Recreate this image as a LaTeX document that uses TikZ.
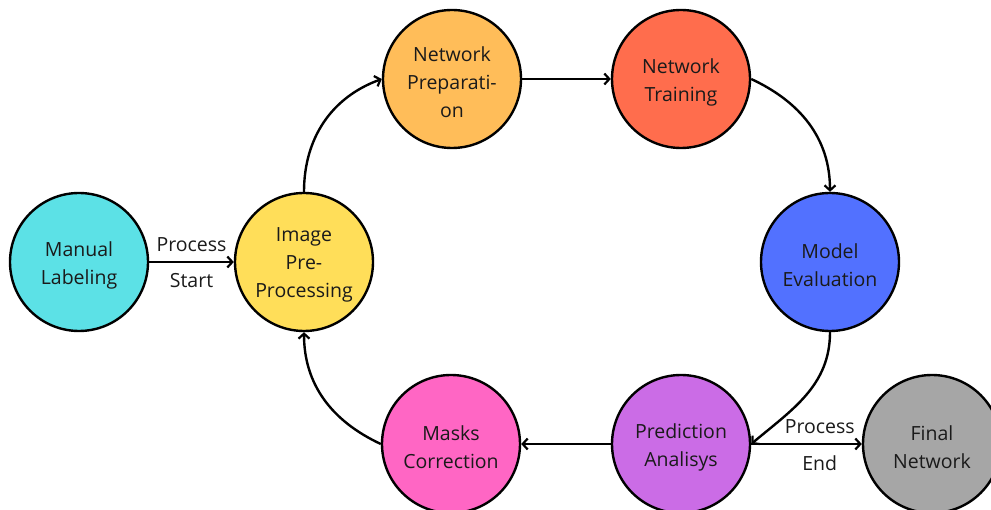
\documentclass[tikz,border=0pt]{standalone}
\usepackage{fontspec}
\setmainfont{Open Sans}
\usetikzlibrary{arrows.meta}
\definecolor{cManual}{HTML}{5CE1E6}
\definecolor{cImage}{HTML}{FFDE59}
\definecolor{cPrep}{HTML}{FFBD59}
\definecolor{cTrain}{HTML}{FF6D4D}
\definecolor{cModel}{HTML}{5271FF}
\definecolor{cPred}{HTML}{CB6CE6}
\definecolor{cMask}{HTML}{FF66C4}
\definecolor{cFinal}{HTML}{A6A6A6}
\definecolor{txt}{HTML}{1A1A1A}
\begin{document}
\begin{tikzpicture}[x=1pt,y=-1pt,
  stage/.style={circle,draw=black,line width=2.4pt,minimum size=138pt,inner sep=0pt},
  stxt/.style={align=center,text=txt,inner sep=0pt,yshift=-3pt,font=\fontsize{19.5}{28}\selectfont},
  flow/.style={line width=2.4pt,-{Straight Barb[length=5pt,width=11pt,line width=2.2pt]}},
  lbl/.style={text=txt,font=\fontsize{19.5}{22}\selectfont,inner sep=0pt}]
\useasboundingbox (0,0) rectangle (991,510);
\clip (0,0) rectangle (991,510);
\node[stage,fill=cManual,label={[stxt]center:Manual\\Labeling}] (ml) at (79,262) {};
\node[stage,fill=cImage,label={[stxt]center:Image\\Pre-\\Processing}] (ip) at (304,262) {};
\node[stage,fill=cPrep,label={[stxt]center:Network\\Preparati-\\on}] (np) at (452,79) {};
\node[stage,fill=cTrain,label={[stxt]center:Network\\Training}] (nt) at (681,79) {};
\node[stage,fill=cModel,label={[stxt]center:Model\\Evaluation}] (me) at (830,262) {};
\node[stage,fill=cPred,label={[stxt]center:Prediction\\Analisys}] (pa) at (681,444) {};
\node[stage,fill=cMask,label={[stxt]center:Masks\\Correction}] (mc) at (451,444) {};
\node[stage,fill=cFinal,label={[stxt]center:Final\\Network}] (fn) at (932,444) {};
\draw[flow] (ml) -- (ip) node[lbl,midway,above=9pt] {Process} node[lbl,midway,below=10pt] {Start};
\draw[flow] (ip.north) to[out=90,in=200] (np.west);
\draw[flow] (np) -- (nt);
\draw[flow] (nt.east) to[out=-25,in=90] (me.north);
\draw[flow] (me.south) to[out=-90,in=40] (pa.east);
\draw[flow] (pa) -- (mc);
\draw[flow] (mc.west) to[out=155,in=-90] (ip.south);
\draw[flow] (pa.east) -- (fn.west) node[lbl,pos=0.62,above=9pt] {Process} node[lbl,pos=0.62,below=10pt] {End};
\end{tikzpicture}
\end{document}
